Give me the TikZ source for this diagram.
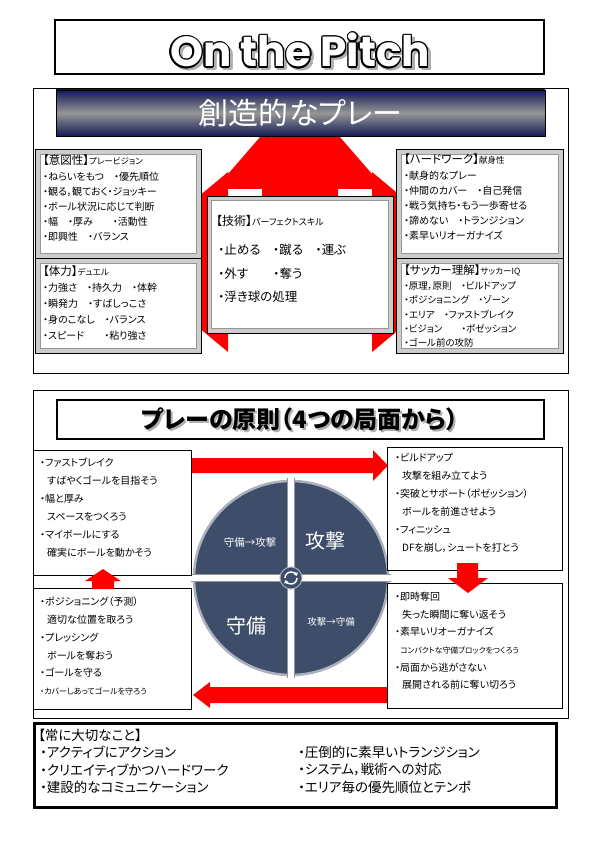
\documentclass[tikz,border=0pt]{standalone}
\usepackage{fontspec}
\setmainfont{Noto Sans CJK JP}[RawFeature=+palt]
\newfontfamily\titlefont{Poppins}
\usetikzlibrary{arrows.meta,calc}

\newcommand{\boxhead}[2]{{\fontsize{11.5}{15}\selectfont #1}{\fontsize{8.5}{15}\selectfont #2}}

\begin{document}
\begin{tikzpicture}[x=1pt,y=-1pt]

% Colors
\definecolor{bannerdark}{RGB}{20,26,86}
\definecolor{bannermid}{RGB}{150,150,150}
\definecolor{arrowred}{RGB}{255,0,0}
\definecolor{bevelgray}{RGB}{205,205,205}
\definecolor{bevelline}{RGB}{150,150,150}
\definecolor{discblue}{RGB}{62,77,106}
\definecolor{discrim}{RGB}{170,176,190}
\definecolor{shadowgray}{RGB}{175,175,175}

% Styles
\tikzset{
  frame/.style={draw=black, line width=0.8pt},
  titlebox/.style={
    rectangle,
    draw=black,
    fill=white,
    line width=1.5pt,
    inner sep=0pt
  },
  banner/.style={
    rectangle,
    draw=black,
    line width=0.6pt,
    top color=bannerdark,
    bottom color=bannerdark,
    middle color=bannermid,
    minimum width=489,
    minimum height=46,
    text=white,
    font=\fontsize{30}{30}\selectfont
  },
  bevelbox/.style={
    rectangle,
    draw=black,
    fill=bevelgray,
    line width=0.5pt,
    inner sep=0pt,
    anchor=north west
  },
  innerwhite/.style={draw=bevelline, fill=white, line width=0.4pt},
  plainbox/.style={
    rectangle,
    draw=black,
    fill=white,
    line width=0.9pt,
    inner sep=0pt,
    anchor=north west
  },
  itemtext/.style={
    anchor=north west,
    align=left,
    inner sep=0pt,
    font=\fontsize{10}{15.2}\selectfont
  },
  ruletext/.style={
    anchor=north west,
    align=left,
    inner sep=0pt,
    font=\fontsize{10}{18}\selectfont
  },
  redarrow/.style={fill=arrowred, draw=none},
  pitchtext/.style={
    anchor=base,
    inner sep=0pt,
    font=\titlefont\bfseries\fontsize{42}{42}\selectfont
  },
  disclabel/.style={text=white, inner sep=0pt}
}

\useasboundingbox (0,0) rectangle (595,842);

% Title
\node[titlebox, minimum width=489, minimum height=54] (title) at (299.5,47) {};
\foreach \a in {0,45,...,315}
  \node[pitchtext, text=shadowgray] at ($(302.5,69.5)+(\a:1.4)$) {On the Pitch};
\foreach \a in {0,30,...,330}
  \node[pitchtext, text=black] at ($(300,67)+(\a:1.4)$) {On the Pitch};
\node[pitchtext, text=white] (pitch) at (300,67) {On the Pitch};

% ----------------------------
% Upper part: creative play
% ----------------------------
\draw[frame] (33,88) rectangle (568,373);

% Red arrow behind the boxes
\fill[redarrow] (300,91) -- (385,189) -- (338,189) -- (338,215) -- (372,215)
  -- (372,172) -- (480,262) -- (372,352) -- (372,300) -- (228,300)
  -- (228,352) -- (120,262) -- (228,172) -- (228,215) -- (262,215)
  -- (262,189) -- (215,189) -- cycle;

\node[banner] (banner) at (300.5,113) {創造的なプレー};

% Side boxes
\node[bevelbox, minimum width=166, minimum height=109] (intent) at (35,149) {};
\draw[innerwhite] ($(intent.north west)+(5,5)$) rectangle ($(intent.south east)+(-5,-5)$);
\node[itemtext] (intenttext) at (43,155) {\boxhead{【意図性】}{プレービジョン}\\
  ・ねらいをもつ　・優先順位\\
  ・観る，観ておく・ジョッキー\\
  ・ボール状況に応じて判断\\
  ・幅　・厚み　　・活動性\\
  ・即興性　・バランス};

\node[bevelbox, minimum width=166, minimum height=95] (power) at (35,258) {};
\draw[innerwhite] ($(power.north west)+(5,5)$) rectangle ($(power.south east)+(-5,-5)$);
\node[itemtext, font=\fontsize{10}{16}\selectfont] (powertext) at (43,266) {\boxhead{【体力】}{デュエル}\\
  ・力強さ　・持久力　・体幹\\
  ・瞬発力　・すばしっこさ\\
  ・身のこなし　・バランス\\
  ・スピード　　・粘り強さ};

\node[bevelbox, minimum width=167, minimum height=109] (hardwork) at (396,149) {};
\draw[innerwhite] ($(hardwork.north west)+(5,5)$) rectangle ($(hardwork.south east)+(-5,-5)$);
\node[itemtext] (hardworktext) at (404,154) {\boxhead{【ハードワーク】}{献身性}\\
  ・献身的なプレー\\
  ・仲間のカバー　・自己発信\\
  ・戦う気持ち・もう一歩寄せる\\
  ・諦めない　・トランジション\\
  ・素早いリオーガナイズ};

\node[bevelbox, minimum width=167, minimum height=95] (insight) at (396,258) {};
\draw[innerwhite] ($(insight.north west)+(5,5)$) rectangle ($(insight.south east)+(-5,-5)$);
\node[itemtext, font=\fontsize{9.5}{14.4}\selectfont] (insighttext) at (404,265) {\boxhead{【サッカー理解】}{サッカーIQ}\\
  ・原理，原則　・ビルドアップ\\
  ・ポジショニング　・ゾーン\\
  ・エリア　・ファストブレイク\\
  ・ビジョン　　・ポゼッション\\
  ・ゴール前の攻防};

% Centre box
\node[bevelbox, minimum width=186, minimum height=137] (skill) at (207,196) {};
\draw[innerwhite] ($(skill.north west)+(4,4)$) rectangle ($(skill.south east)+(-5,-5)$);
\node[anchor=west, inner sep=0pt] (skillhead) at (216,221)
  {{\fontsize{12}{12}\selectfont 【技術】}{\fontsize{9}{9}\selectfont パーフェクトスキル}};
\node[anchor=west, inner sep=0pt, font=\fontsize{12.5}{12.5}\selectfont] (skill1) at (218,250) {・止める　・蹴る　・運ぶ};
\node[anchor=west, inner sep=0pt, font=\fontsize{12.5}{12.5}\selectfont] (skill2) at (218,274) {・外す　　・奪う};
\node[anchor=west, inner sep=0pt, font=\fontsize{12.5}{12.5}\selectfont] (skill3) at (218,297) {・浮き球の処理};

% ----------------------------
% Lower part: principles of play
% ----------------------------
\draw[frame] (33,390) rectangle (568,718);

\node[titlebox, minimum width=487, minimum height=39] (rulestitle) at (300.5,419.5) {};
\node[text=shadowgray, font=\bfseries\fontsize{24}{24}\selectfont] at (302,421.5) {プレーの原則（4つの局面から）};
\node[font=\bfseries\fontsize{24}{24}\selectfont] (rulestext) at (300,419.5) {プレーの原則（4つの局面から）};

% Phase disc
\node[circle, fill=discblue, draw=discrim, line width=2.5pt, minimum size=194, inner sep=0pt] (disc) at (291,578) {};
\draw[bevelline, line width=8pt, shorten <=-2pt, shorten >=-2pt] (disc.north) -- (disc.south);
\draw[bevelline, line width=8pt, shorten <=-2pt, shorten >=-2pt] (disc.west) -- (disc.east);
\draw[white, line width=5.5pt, shorten <=-3pt, shorten >=-3pt] (disc.north) -- (disc.south);
\draw[white, line width=5.5pt, shorten <=-3pt, shorten >=-3pt] (disc.west) -- (disc.east);
\node[circle, fill=discblue, draw=discrim, line width=1pt, minimum size=22, inner sep=0pt] (hub) at (disc.center) {};
\draw[white, line width=1.4pt, -{Triangle[length=3pt,width=4.5pt]}] ($(hub.center)+(6,0)$) arc (0:160:6);
\draw[white, line width=1.4pt, -{Triangle[length=3pt,width=4.5pt]}] ($(hub.center)+(-6,0)$) arc (180:340:6);

\node[disclabel, font=\fontsize{10.5}{10.5}\selectfont] (defatt) at (250,543) {守備→攻撃};
\node[disclabel, font=\fontsize{20}{20}\selectfont] (attack) at (325,541) {攻撃};
\node[disclabel, font=\fontsize{20}{20}\selectfont] (defend) at (246,626) {守備};
\node[disclabel, font=\fontsize{9.5}{9.5}\selectfont] (attdef) at (331,622) {攻撃→守備};

% Phase boxes
\node[plainbox, minimum width=158, minimum height=125] (fast) at (33,450) {};
\node[ruletext] (fasttext) at (40,458) {・ファストブレイク\\
  \hspace*{7pt}すばやくゴールを目指そう\\
  ・幅と厚み\\
  \hspace*{7pt}スペースをつくろう\\
  ・マイボールにする\\
  \hspace*{7pt}確実にボールを動かそう};

\node[plainbox, minimum width=175, minimum height=123] (build) at (387,447) {};
\node[ruletext] (buildtext) at (395,453) {・ビルドアップ\\
  \hspace*{7pt}攻撃を組み立てよう\\
  ・突破とサポート（ポゼッション）\\
  \hspace*{7pt}ボールを前進させよう\\
  ・フィニッシュ\\
  \hspace*{7pt}DFを崩し，シュートを打とう};

\node[plainbox, minimum width=158, minimum height=121] (guard) at (33,588) {};
\node[ruletext, font=\fontsize{10}{17.8}\selectfont] (guardtext) at (40,597) {・ポジショニング（予測）\\
  \hspace*{7pt}適切な位置を取ろう\\
  ・プレッシング\\
  \hspace*{7pt}ボールを奪おう\\
  ・ゴールを守る\\
  {\fontsize{8}{17.8}\selectfont ・カバーしあってゴールを守ろう}};

\node[plainbox, minimum width=175, minimum height=125] (regain) at (387,583) {};
\node[ruletext, font=\fontsize{10}{17.6}\selectfont] (regaintext) at (395,592) {・即時奪回\\
  \hspace*{7pt}失った瞬間に奪い返そう\\
  ・素早いリオーガナイズ\\
  \hspace*{5pt}{\fontsize{7.8}{17.6}\selectfont コンパクトな守備ブロックをつくろう}\\
  ・局面から逃がさない\\
  \hspace*{7pt}展開される前に奪い切ろう};

% Block arrows between the phases
\fill[redarrow] (192,458) -- (373,458) -- (373,450) -- (388,465.5) -- (373,481)
  -- (373,473) -- (192,473) -- cycle;
\fill[redarrow] (457,563) -- (478,563) -- (478,578) -- (488,578) -- (468,593)
  -- (448,578) -- (457,578) -- cycle;
\fill[redarrow] (387,687) -- (210,687) -- (210,682) -- (193,695) -- (210,708)
  -- (210,703) -- (387,703) -- cycle;
\fill[redarrow] (92,589) -- (92,581) -- (85,581) -- (103,569) -- (121,581)
  -- (114,581) -- (114,589) -- cycle;

% ----------------------------
% Always important
% ----------------------------
\node[rectangle, draw=black, line width=2.5pt, minimum width=522, minimum height=84, anchor=north west] (always) at (33,722) {};
\node[anchor=west, inner sep=0pt, font=\fontsize{13.5}{13.5}\selectfont] (alwayshead) at (38,735) {【常に大切なこと】};
\node[anchor=west, inner sep=0pt, font=\fontsize{13.5}{13.5}\selectfont] (always1) at (40,752) {・アクティブにアクション};
\node[anchor=west, inner sep=0pt, font=\fontsize{13.5}{13.5}\selectfont] (always2) at (40,770) {・クリエイティブかつハードワーク};
\node[anchor=west, inner sep=0pt, font=\fontsize{13.5}{13.5}\selectfont] (always3) at (40,787) {・建設的なコミュニケーション};
\node[anchor=west, inner sep=0pt, font=\fontsize{13.5}{13.5}\selectfont] (always4) at (298,752) {・圧倒的に素早いトランジション};
\node[anchor=west, inner sep=0pt, font=\fontsize{13.5}{13.5}\selectfont] (always5) at (298,770) {・システム，戦術への対応};
\node[anchor=west, inner sep=0pt, font=\fontsize{13.5}{13.5}\selectfont] (always6) at (298,787) {・エリア毎の優先順位とテンポ};

\end{tikzpicture}
\end{document}
